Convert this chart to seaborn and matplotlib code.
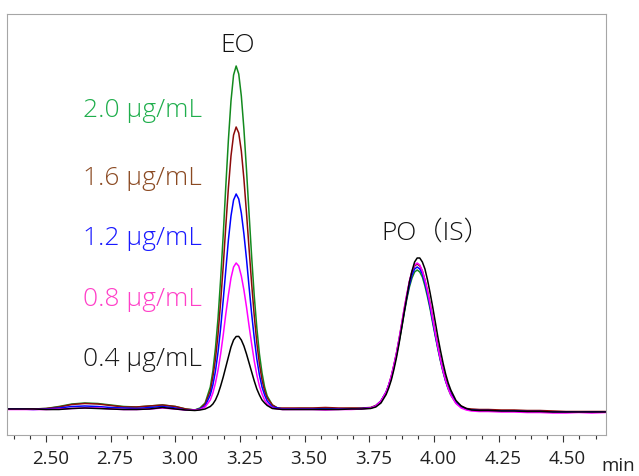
import pandas as pd
import matplotlib
matplotlib.use("Agg")
import matplotlib.pyplot as plt
import matplotlib.transforms as mtransforms
from matplotlib.ticker import MultipleLocator, FormatStrFormatter
import seaborn as sns

# retention time (min), shared by all traces
time_min = [2.35, 2.40, 2.45, 2.50, 2.55, 2.60, 2.65, 2.70, 2.75, 2.80, 2.85, 2.90, 2.95, 3.00, 3.04,
            3.075, 3.095, 3.115, 3.135, 3.145, 3.155, 3.165, 3.175, 3.185, 3.195, 3.205, 3.215, 3.225,
            3.235, 3.245, 3.255, 3.265, 3.275, 3.285, 3.295, 3.305, 3.315, 3.325, 3.335, 3.345, 3.355,
            3.375, 3.395, 3.415, 3.445,
            3.48, 3.53, 3.58, 3.63, 3.68, 3.72,
            3.755, 3.775, 3.795, 3.815, 3.825, 3.835, 3.845, 3.855, 3.865, 3.875, 3.885, 3.895, 3.905,
            3.915, 3.925, 3.935, 3.945, 3.955, 3.965, 3.975, 3.985, 3.995, 4.005, 4.015, 4.025, 4.035,
            4.045, 4.055, 4.065, 4.085, 4.105, 4.125, 4.145, 4.175,
            4.21, 4.26, 4.31, 4.36, 4.41, 4.46, 4.51, 4.56, 4.61, 4.664]

# detector signal (arbitrary units, baseline ~ 0)
sig_20 = [0, 0, 0, 0.5, 2.5, 5, 6, 5.5, 4, 2.5, 2, 3, 4, 2.5, 0,
          -1, 1, 6, 22, 38, 61, 91, 130, 174, 223, 269, 308, 334, 343, 335, 313, 280, 239, 195, 152,
          113, 81, 55, 36, 22, 13, 4, 1, 0, 0,
          0.5, 0.5, 0, 0, 0.5, 0.5,
          1, 3, 8, 16, 23, 31, 42, 54, 67, 81, 96, 110, 122, 131, 137, 139, 137, 132, 123, 112, 100,
          86, 73, 60, 48, 37, 28, 20, 14, 6, 2, 0, -1, -1.5,
          -1.5, -2, -2, -2.5, -2.5, -3, -3, -3, -3, -3]
sig_16 = [0, 0, 0, 0.5, 2, 4.5, 5.5, 5, 3.5, 2, 2, 3, 4, 2.5, 0,
          -1, 0, 5, 18, 32, 50, 75, 107, 143, 183, 221, 253, 274, 282, 276, 258, 230, 196, 160, 125,
          93, 66, 45, 29, 18, 11, 4, 1, 1, 1,
          1, 1, 1.5, 1, 1, 1,
          1.5, 3.5, 8, 17, 24, 33, 44, 56, 70, 85, 100, 114, 127, 137, 143, 145, 143, 138, 129, 118,
          105, 91, 76, 63, 50, 39, 30, 22, 16, 7, 3, 0.5, 0, -0.5,
          -0.5, -1, -1, -1.5, -1.5, -2, -2.5, -2.5, -2.5, -2.5]
sig_12 = [0, 0, -0.5, 0, 1, 2.5, 3, 2.5, 1.5, 1, 0.5, 1.5, 2.5, 1, -1,
          -1, 0, 3, 14, 24, 38, 57, 81, 109, 139, 169, 193, 209, 215, 210, 196, 175, 150, 122, 95,
          71, 50, 34, 22, 14, 8, 2, 1, 0, 0,
          0, 0, 0, 0, 0, 0.5,
          1, 3, 8, 17, 24, 32, 43, 55, 69, 83, 98, 112, 124, 134, 140, 142, 140, 135, 126, 115, 102,
          88, 74, 61, 49, 38, 28, 21, 15, 6.5, 2, 0, -1, -1.5,
          -1.5, -2, -2, -2.5, -2.5, -3, -3, -3, -3, -3]
sig_08 = [-0.5, -0.5, -0.5, -0.5, 0, 0.5, 1, 1, 0, -0.5, -0.5, 0, 1, 0, -1,
          -1, -0.5, 2, 9, 16, 26, 39, 55, 74, 95, 114, 131, 142, 146, 143, 133, 119, 102, 83, 65,
          48, 34, 23, 15, 9, 5, 1, 0, -0.5, -0.5,
          -0.5, -0.5, -1, -0.5, -0.5, 0,
          1, 3, 8, 17, 24, 33, 44, 56, 70, 85, 101, 115, 128, 138, 144, 146, 144, 138, 129, 118, 105,
          90.5, 76, 62, 49.5, 38, 28.5, 20.5, 14, 5.5, 1, -1, -2, -2.5,
          -2.5, -3, -3, -3.5, -3.5, -4, -4, -3.5, -4, -3.5]
sig_04 = [0, 0, 0, -0.5, -0.5, 0.5, 1, 0.5, 0, -0.5, -0.5, 0, 1.5, 0, -1,
          -1.5, -1, 0, 2.5, 5, 9, 15, 23, 32, 42, 52, 62, 69, 72.5, 72.6, 69, 63, 55, 46, 37,
          28, 20, 14, 9, 6, 3.5, 0.5, 0, -0.5, -0.5,
          -0.5, -0.5, -0.5, -0.5, 0, 0,
          0.5, 2, 6, 14.5, 21, 29, 39.5, 51.5, 65.5, 81, 97, 112, 127, 138, 147, 151, 151, 147, 140,
          129, 116, 102, 87, 72, 58.5, 46, 35, 26, 19, 8.5, 3, 0.5, -1, -1.5,
          -1.5, -2, -2, -2.5, -2.5, -3, -3, -3, -3, -3]

concs = ["2.0 μg/mL", "1.6 μg/mL", "1.2 μg/mL", "0.8 μg/mL", "0.4 μg/mL"]
traces = [sig_20, sig_16, sig_12, sig_08, sig_04]

line_colors = {"2.0 μg/mL": "#138a1e", "1.6 μg/mL": "#8c0b0b", "1.2 μg/mL": "#0000ff",
               "0.8 μg/mL": "#ff00ff", "0.4 μg/mL": "#000000"}
text_colors = ["#1fae4c", "#8b4a22", "#1a1aff", "#ff40c8", "#1a1a1a"]

df = pd.concat([pd.DataFrame({"time": time_min, "signal": s, "conc": c})
                for c, s in zip(concs, traces)], ignore_index=True)

sns.set_theme(style="white")
plt.rcParams['font.family'] = ['Open Sans', 'Noto Sans CJK JP', 'DejaVu Sans']

fig = plt.figure(figsize=(6.39, 4.76), dpi=100)
ax = fig.add_axes([0.0114, 0.0851, 0.9365, 0.8855])

sns.lineplot(data=df, x="time", y="signal", hue="conc", hue_order=concs,
             palette=line_colors, linewidth=1.1, estimator=None, sort=False,
             legend=False, ax=ax)

ax.set_xlim(2.35, 4.664)
ax.set_ylim(-26.5, 395)
ax.set_xlabel("")
ax.set_ylabel("")
ax.set_yticks([])

ax.xaxis.set_major_locator(MultipleLocator(0.25))
ax.xaxis.set_minor_locator(MultipleLocator(0.0625))
ax.xaxis.set_major_formatter(FormatStrFormatter('%.2f'))
ax.tick_params(axis='x', which='major', direction='out', bottom=True, length=4.8,
               width=0.8, color='#333333', labelsize=13.5, labelcolor='#222222', pad=6)
ax.tick_params(axis='x', which='minor', direction='out', bottom=True, length=2.9,
               width=0.8, color='#333333')

for side in ['left', 'right', 'top', 'bottom']:
    ax.spines[side].set_color('#a6a6a6')
    ax.spines[side].set_linewidth(0.8)

# labels sit a few pixels right of their ticks
shift = mtransforms.ScaledTranslation(0.043, 0, fig.dpi_scale_trans)
for tick in ax.xaxis.get_major_ticks():
    tick.label1.set_transform(tick.label1.get_transform() + shift)

# concentration labels
label_y = [292, 224, 164, 103, 43]
for c, col, y in zip(concs, text_colors, label_y):
    ax.text(3.103, y, c, color=col, ha='right', va='baseline', fontsize=19,
            fontweight='light')

ax.text(3.242, 357, "EO", color='#111111', ha='center', va='baseline', fontsize=19,
        fontweight='light')
ax.text(3.7975, 169, "PO（IS）", color='#111111', ha='left', va='baseline', fontsize=19,
        fontweight='light')
fig.text(601.7 / 639, 1 - 471 / 476, "min", color='#222222', ha='left', va='baseline',
         fontsize=13.5)

fig.savefig("out.png", dpi=100)
